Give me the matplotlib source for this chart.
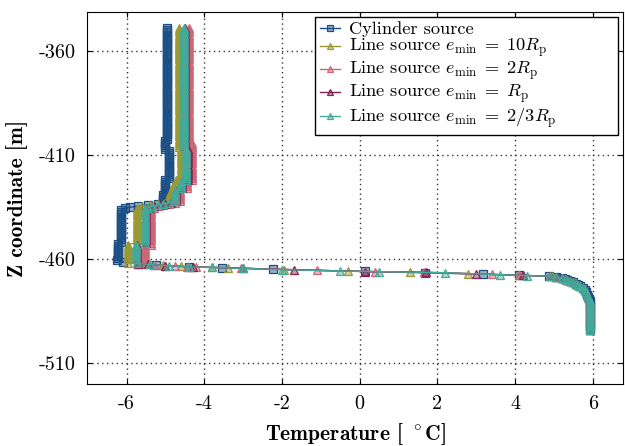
import numpy as np
import matplotlib
matplotlib.use("Agg")
import matplotlib.pyplot as plt

plt.rcParams["font.family"] = "serif"
plt.rcParams["font.serif"] = ["cmr10"]
plt.rcParams["mathtext.fontset"] = "cm"
plt.rcParams["axes.unicode_minus"] = False

# rows are (z_top, z_bottom, temperature); z on a 1 m mesh, single points have z_top == z_bottom
cyl_rows = [
    (-349, -402, -4.96), (-403, -407, -5.00), (-408, -421, -4.91), (-422, -428, -5.00),
    (-429, -433, -5.06),
    (-433.5, -433.5, -5.20), (-434.0, -434.0, -5.45), (-434.5, -434.5, -5.70),
    (-435.0, -435.0, -5.90), (-435.5, -435.5, -6.05),
    (-436.5, -451.5, -6.13), (-452.5, -459.5, -6.21),
    (-460.3, -460.3, -6.25), (-461.3, -461.3, -6.10), (-462.2, -462.2, -5.70),
    (-462.9, -462.9, -5.23), (-463.7, -463.7, -4.40), (-464.0, -464.0, -3.55),
    (-464.9, -464.9, -2.24), (-465.9, -465.9, 0.15), (-466.5, -466.5, 1.67),
    (-467.2, -467.2, 3.17), (-467.7, -467.7, 4.10), (-468.2, -468.2, 4.87),
]

olive_rows = [
    (-349, -406, -4.65), (-407, -421, -4.60), (-422, -424, -4.72), (-425, -427, -4.80),
    (-428, -432, -4.88),
    (-432.8, -432.8, -5.00), (-433.4, -433.4, -5.20), (-434.0, -434.0, -5.40),
    (-434.6, -434.6, -5.60), (-435.2, -435.2, -5.70),
    (-436, -452, -5.74), (-453, -460, -5.96),
    (-461.7, -461.7, -5.95), (-462.2, -462.2, -5.65), (-463.0, -463.0, -5.05),
    (-463.5, -463.5, -4.60), (-463.95, -463.95, -3.80), (-464.1, -464.1, -3.40),
    (-465.0, -465.0, -1.95), (-465.75, -465.75, -0.30), (-466.2, -466.2, 1.30),
    (-467.0, -467.0, 2.80), (-467.75, -467.75, 4.10), (-468.25, -468.25, 4.95),
]

pink_rows = [
    (-349, -403, -4.38), (-404, -422, -4.32), (-423, -426, -4.45), (-427, -432, -4.62),
    (-432.8, -432.8, -4.75), (-433.4, -433.4, -4.90), (-434.0, -434.0, -5.05),
    (-434.6, -434.6, -5.20), (-435.2, -435.2, -5.30),
    (-436, -453, -5.37), (-454, -461, -5.53),
    (-462.4, -462.4, -5.50), (-462.7, -462.7, -5.30), (-463.1, -463.1, -5.00),
    (-463.35, -463.35, -4.75), (-463.65, -463.65, -4.45), (-463.8, -463.8, -4.20),
    (-464.35, -464.35, -3.05), (-465.35, -465.35, -1.10), (-466.0, -466.0, 0.40),
    (-466.3, -466.3, 1.65), (-467.35, -467.35, 3.40), (-467.75, -467.75, 4.10),
    (-468.2, -468.2, 4.90),
]

purple_rows = [
    (-349, -406, -4.49), (-407, -422, -4.42), (-423, -426, -4.56), (-427, -432, -4.72),
    (-432.8, -432.8, -4.85), (-433.4, -433.4, -5.00), (-434.0, -434.0, -5.15),
    (-434.6, -434.6, -5.30), (-435.2, -435.2, -5.42),
    (-436, -452, -5.50), (-453, -460, -5.72),
    (-462.1, -462.1, -5.70), (-462.5, -462.5, -5.45), (-463.1, -463.1, -5.00),
    (-463.75, -463.75, -4.30), (-464.4, -464.4, -3.00), (-465.1, -465.1, -1.70),
    (-465.95, -465.95, 0.15), (-466.3, -466.3, 1.70), (-467.1, -467.1, 3.00),
    (-467.8, -467.8, 4.20), (-468.2, -468.2, 4.90),
]

teal_rows = [
    (-349, -406, -4.52), (-407, -422, -4.46), (-423, -426, -4.60), (-427, -432, -4.76),
    (-432.8, -432.8, -4.90), (-433.4, -433.4, -5.05), (-434.0, -434.0, -5.20),
    (-434.6, -434.6, -5.35), (-435.2, -435.2, -5.45),
    (-436, -452, -5.53), (-453, -460, -5.75),
    (-462.05, -462.05, -5.72), (-462.55, -462.55, -5.40), (-463.2, -463.2, -4.90),
    (-463.7, -463.7, -4.40), (-463.95, -463.95, -3.80), (-464.4, -464.4, -3.00),
    (-465.0, -465.0, -2.00), (-465.7, -465.7, -0.50), (-466.0, -466.0, 0.50),
    (-466.5, -466.5, 2.20), (-467.45, -467.45, 3.60), (-467.85, -467.85, 4.30),
    (-468.2, -468.2, 4.90),
]

# common bottom part, all curves overlap here
tail_rows = [
    (-468.7, -468.7, 5.05), (-469.2, -469.2, 5.20), (-469.7, -469.7, 5.28),
    (-470.2, -470.2, 5.33), (-470.7, -470.7, 5.40), (-471.2, -471.2, 5.50),
    (-471.7, -471.7, 5.57), (-472.3, -472.3, 5.62), (-473, -473, 5.68),
    (-474, -474, 5.74), (-475, -475, 5.79), (-476, -476, 5.83), (-477, -477, 5.86),
    (-478, -478, 5.88), (-479, -479, 5.90), (-480, -494, 5.92),
]

labels = [
    "Cylinder source",
    r"Line source $e_\mathrm{min}\;=\;10R_\mathrm{p}$",
    r"Line source $e_\mathrm{min}\;=\;2R_\mathrm{p}$",
    r"Line source $e_\mathrm{min}\;=\;R_\mathrm{p}$",
    r"Line source $e_\mathrm{min}\;=\;2/3R_\mathrm{p}$",
]
colors = ["#1c4f86", "#999933", "#cc6677", "#882255", "#44aa99"]
markers = ["s", "^", "^", "^", "^"]

xticks = [-6, -4, -2, 0, 2, 4, 6]
yticks = [-360, -410, -460, -510]


def expand(rows):
    z, t = [], []
    for z0, z1, val in rows + tail_rows:
        pts = np.arange(z0, z1 - 0.5, -1.0)
        z.extend(pts)
        t.extend([val] * len(pts))
    return np.array(t), np.array(z)


fig = plt.figure(figsize=(6.25, 4.46), dpi=100)
ax = fig.add_axes([0.139, 0.139, 0.858, 0.834])

all_rows = [cyl_rows, olive_rows, pink_rows, purple_rows, teal_rows]
for rows, lab, col, mk in zip(all_rows, labels, colors, markers):
    t, z = expand(rows)
    mfc = matplotlib.colors.to_rgba(col, 0.45)
    ax.plot(t, z, color=col, lw=1.0, marker=mk, ms=5.5, mec=col, mew=0.9,
            mfc=mfc, label=lab)

ax.set_xlim(-7.02, 6.78)
ax.set_ylim(-520, -341.2)
ax.set_xticks(xticks, labels=[str(v) for v in xticks])
ax.set_yticks(yticks, labels=[str(v) for v in yticks])
ax.tick_params(direction="in", top=True, right=True, length=3.5, labelsize=14.5, pad=8)
ax.grid(True, color="#333333", linestyle=(0, (1, 2.5)), linewidth=1.0)

ax.set_xlabel(r"Temperature [ $^\circ$C]", fontname="cmb10", fontsize=15.5, labelpad=6)
ax.set_ylabel("Z coordinate [m]", fontname="cmb10", fontsize=15.5, labelpad=8)

leg = ax.legend(loc="upper left", bbox_to_anchor=(0.4254, 0.9866, 0.5653, 0.0),
                mode="expand", borderaxespad=0, fontsize=13.2, fancybox=False,
                framealpha=1, edgecolor="black", labelspacing=0.0,
                handlelength=1.1, handletextpad=0.5, borderpad=0.25, markerscale=0.8)
leg.get_frame().set_linewidth(1.0)

fig.savefig("out.png", dpi=100)
